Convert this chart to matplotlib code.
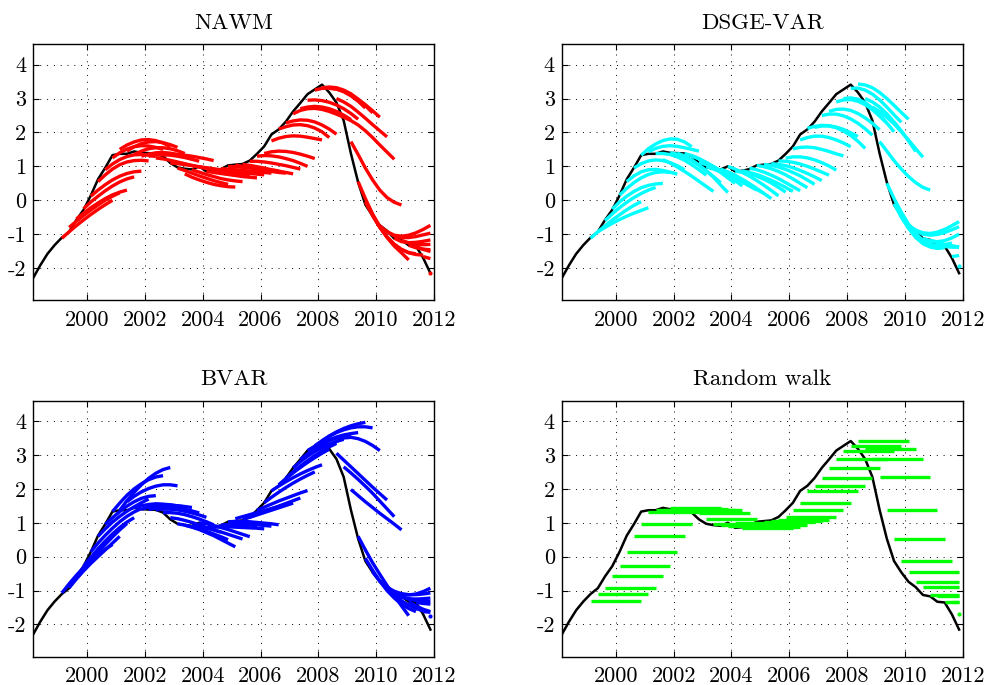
import numpy as np
import matplotlib
matplotlib.use("Agg")
import matplotlib.pyplot as plt

plt.rcParams['font.family'] = ['cmr10', 'DejaVu Serif']
plt.rcParams['axes.unicode_minus'] = False
plt.rcParams['mathtext.fontset'] = 'cm'

# quarterly dates 1998Q1..2011Q4 (plotted at mid-quarter)
years = [y for y in range(1998, 2012) for q in range(4)]
quarters = [q for y in range(1998, 2012) for q in range(4)]

actual = [-2.30, -1.92, -1.58, -1.32, -1.10, -0.93, -0.58, -0.28, 0.14, 0.62, 0.96, 1.33,
          1.37, 1.37, 1.44, 1.40, 1.39, 1.38, 1.30, 1.10, 0.97, 0.93, 0.91, 1.00,
          0.85, 0.87, 0.92, 1.03, 1.05, 1.07, 1.17, 1.37, 1.59, 1.94, 2.09, 2.32,
          2.62, 2.87, 3.13, 3.27, 3.41, 3.18, 2.88, 2.35, 1.38, 0.53, -0.13, -0.46,
          -0.74, -0.90, -1.13, -1.17, -1.33, -1.35, -1.70, -2.15]

first_origin = 4  # forecasts start at 1999Q1

nawm_fc = [
    [-1.12, -0.93, -0.75, -0.58, -0.42, -0.27, -0.13, 0.00],
    [-0.80, -0.62, -0.45, -0.29, -0.14, 0.00, 0.12, 0.22],
    [-0.55, -0.38, -0.22, -0.08, 0.05, 0.16, 0.24, 0.30],
    [-0.25, -0.05, 0.12, 0.28, 0.42, 0.54, 0.63, 0.69],
    [0.12, 0.30, 0.46, 0.60, 0.71, 0.79, 0.84, 0.86],
    [0.55, 0.75, 0.92, 1.05, 1.13, 1.17, 1.18, 1.16],
    [0.90, 1.07, 1.20, 1.29, 1.34, 1.35, 1.33, 1.29],
    [1.25, 1.40, 1.51, 1.58, 1.61, 1.60, 1.56, 1.50],
    [1.50, 1.63, 1.72, 1.78, 1.79, 1.76, 1.69, 1.58],
    [1.45, 1.58, 1.67, 1.72, 1.73, 1.70, 1.64, 1.56],
    [1.35, 1.45, 1.52, 1.55, 1.55, 1.52, 1.46, 1.38],
    [1.30, 1.36, 1.40, 1.41, 1.39, 1.35, 1.29, 1.21],
    [1.30, 1.33, 1.34, 1.33, 1.30, 1.26, 1.21, 1.15],
    [1.25, 1.22, 1.18, 1.13, 1.08, 1.03, 0.98, 0.94],
    [1.34, 1.36, 1.35, 1.33, 1.30, 1.26, 1.22, 1.17],
    [1.10, 1.08, 1.05, 1.02, 0.99, 0.96, 0.93, 0.90],
    [0.95, 0.88, 0.80, 0.72, 0.65, 0.58, 0.52, 0.47],
    [0.78, 0.68, 0.60, 0.53, 0.47, 0.43, 0.40, 0.39],
    [0.90, 0.83, 0.76, 0.70, 0.64, 0.60, 0.57, 0.55],
    [0.98, 0.95, 0.91, 0.87, 0.83, 0.80, 0.77, 0.75],
    [0.85, 0.82, 0.79, 0.76, 0.73, 0.70, 0.68, 0.66],
    [0.88, 0.87, 0.85, 0.83, 0.81, 0.79, 0.77, 0.75],
    [0.93, 0.92, 0.90, 0.88, 0.86, 0.84, 0.82, 0.80],
    [1.00, 0.99, 0.97, 0.95, 0.93, 0.91, 0.89, 0.87],
    [1.04, 1.00, 0.96, 0.92, 0.88, 0.85, 0.82, 0.80],
    [1.06, 1.03, 0.99, 0.95, 0.90, 0.86, 0.82, 0.78],
    [1.15, 1.15, 1.13, 1.10, 1.06, 1.02, 0.97, 0.92],
    [1.30, 1.32, 1.31, 1.28, 1.23, 1.17, 1.09, 1.00],
    [1.38, 1.43, 1.45, 1.44, 1.41, 1.36, 1.30, 1.23],
    [1.75, 1.83, 1.88, 1.90, 1.89, 1.86, 1.82, 1.78],
    [2.10, 2.17, 2.22, 2.23, 2.20, 2.13, 2.02, 1.85],
    [2.28, 2.34, 2.37, 2.36, 2.31, 2.22, 2.10, 1.95],
    [2.55, 2.65, 2.70, 2.71, 2.68, 2.62, 2.54, 2.45],
    [2.70, 2.75, 2.77, 2.75, 2.70, 2.62, 2.51, 2.38],
    [2.95, 2.96, 2.94, 2.89, 2.81, 2.70, 2.56, 2.39],
    [3.25, 3.30, 3.31, 3.28, 3.20, 3.08, 2.92, 2.72],
    [3.32, 3.34, 3.32, 3.25, 3.14, 2.98, 2.79, 2.58],
    [3.30, 3.28, 3.22, 3.12, 2.98, 2.82, 2.64, 2.45],
    [3.00, 2.90, 2.77, 2.60, 2.42, 2.23, 2.05, 1.87],
    [2.45, 2.35, 2.22, 2.05, 1.85, 1.63, 1.42, 1.21],
    [1.73, 1.35, 0.95, 0.60, 0.30, 0.08, -0.06, -0.14],
    [0.55, 0.05, -0.40, -0.78, -1.10, -1.35, -1.55, -1.76],
    [-0.05, -0.45, -0.80, -1.08, -1.30, -1.45, -1.54, -1.58],
    [-0.45, -0.80, -1.08, -1.30, -1.45, -1.55, -1.60, -1.62],
    [-0.75, -0.93, -1.03, -1.06, -1.03, -0.96, -0.86, -0.74],
    [-0.92, -1.05, -1.10, -1.10, -1.07, -1.02, -0.97],
    [-1.12, -1.22, -1.25, -1.24, -1.21, -1.17],
    [-1.18, -1.26, -1.30, -1.31, -1.30],
    [-1.33, -1.40, -1.44, -1.46],
    [-1.36, -1.45, -1.51],
    [-1.66, -1.72],
    [-2.15],
]

dsge_fc = [
    [-1.12, -0.93, -0.75, -0.58, -0.43, -0.28, -0.15, -0.04],
    [-0.93, -0.80, -0.68, -0.57, -0.47, -0.38, -0.30, -0.22],
    [-0.60, -0.40, -0.22, -0.06, 0.08, 0.20, 0.30, 0.38],
    [-0.26, -0.05, 0.12, 0.26, 0.37, 0.44, 0.48, 0.50],
    [0.15, 0.35, 0.52, 0.66, 0.76, 0.82, 0.84, 0.82],
    [0.55, 0.72, 0.84, 0.90, 0.91, 0.88, 0.83, 0.77],
    [0.95, 1.08, 1.16, 1.19, 1.17, 1.11, 1.02, 0.90],
    [1.33, 1.52, 1.66, 1.76, 1.81, 1.80, 1.72, 1.58],
    [1.43, 1.53, 1.59, 1.61, 1.59, 1.55, 1.50, 1.45],
    [1.38, 1.38, 1.35, 1.28, 1.18, 1.05, 0.90, 0.74],
    [1.20, 1.10, 0.98, 0.85, 0.71, 0.56, 0.41, 0.26],
    [1.40, 1.36, 1.28, 1.17, 1.03, 0.87, 0.70, 0.52],
    [1.39, 1.31, 1.19, 1.04, 0.87, 0.68, 0.45, 0.23],
    [1.38, 1.32, 1.23, 1.11, 0.97, 0.82, 0.66, 0.50],
    [1.30, 1.22, 1.12, 1.00, 0.87, 0.73, 0.58, 0.42],
    [1.12, 1.05, 0.97, 0.88, 0.78, 0.67, 0.55, 0.42],
    [0.99, 0.92, 0.84, 0.75, 0.65, 0.54, 0.42, 0.30],
    [0.94, 0.86, 0.77, 0.67, 0.56, 0.44, 0.32, 0.20],
    [0.92, 0.84, 0.74, 0.62, 0.49, 0.35, 0.20, 0.05],
    [1.00, 0.92, 0.82, 0.71, 0.58, 0.44, 0.29, 0.13],
    [0.85, 0.83, 0.78, 0.71, 0.62, 0.51, 0.38, 0.24],
    [0.87, 0.82, 0.76, 0.68, 0.59, 0.49, 0.38, 0.26],
    [0.95, 0.90, 0.83, 0.74, 0.64, 0.52, 0.40, 0.28],
    [1.03, 0.99, 0.93, 0.85, 0.75, 0.63, 0.50, 0.37],
    [1.06, 1.03, 0.98, 0.91, 0.82, 0.72, 0.60, 0.47],
    [1.08, 1.06, 1.02, 0.96, 0.88, 0.79, 0.69, 0.58],
    [1.16, 1.15, 1.12, 1.07, 1.00, 0.92, 0.83, 0.74],
    [1.24, 1.28, 1.28, 1.25, 1.19, 1.11, 1.01, 0.89],
    [1.52, 1.56, 1.57, 1.55, 1.50, 1.44, 1.37, 1.31],
    [1.78, 1.85, 1.89, 1.89, 1.85, 1.78, 1.69, 1.58],
    [2.12, 2.18, 2.21, 2.20, 2.16, 2.09, 1.99, 1.88],
    [2.15, 2.19, 2.19, 2.14, 2.04, 1.91, 1.74, 1.53],
    [2.50, 2.54, 2.54, 2.49, 2.40, 2.27, 2.11, 1.92],
    [2.62, 2.68, 2.69, 2.65, 2.56, 2.43, 2.27, 2.08],
    [2.90, 2.96, 2.97, 2.92, 2.82, 2.67, 2.48, 2.27],
    [3.00, 3.02, 2.98, 2.88, 2.72, 2.52, 2.28, 2.02],
    [3.30, 3.31, 3.25, 3.13, 2.96, 2.75, 2.52, 2.30],
    [3.43, 3.40, 3.32, 3.18, 3.00, 2.80, 2.59, 2.39],
    [3.00, 2.90, 2.75, 2.55, 2.31, 2.05, 1.75, 1.44],
    [2.75, 2.62, 2.45, 2.25, 2.02, 1.78, 1.52, 1.27],
    [1.73, 1.45, 1.17, 0.92, 0.70, 0.52, 0.38, 0.30],
    [0.50, 0.05, -0.35, -0.70, -0.98, -1.18, -1.32, -1.40],
    [-0.10, -0.50, -0.83, -1.10, -1.28, -1.38, -1.42, -1.40],
    [-0.45, -0.78, -1.03, -1.20, -1.30, -1.33, -1.31, -1.26],
    [-0.73, -0.88, -0.96, -0.98, -0.94, -0.86, -0.75, -0.63],
    [-0.90, -1.00, -1.03, -1.01, -0.95, -0.87, -0.78],
    [-1.12, -1.20, -1.22, -1.19, -1.11, -1.00],
    [-1.17, -1.25, -1.30, -1.34, -1.38],
    [-1.33, -1.36, -1.38, -1.38],
    [-1.36, -1.37, -1.38],
    [-1.66, -1.63],
    [-1.95],
]

bvar_fc = [
    [-1.07, -0.80, -0.55, -0.32, -0.12, 0.06, 0.22, 0.36],
    [-0.92, -0.66, -0.42, -0.20, 0.00, 0.20, 0.40, 0.60],
    [-0.62, -0.35, -0.10, 0.13, 0.36, 0.58, 0.79, 0.98],
    [-0.28, -0.02, 0.23, 0.46, 0.67, 0.86, 1.02, 1.15],
    [0.14, 0.40, 0.63, 0.84, 1.03, 1.19, 1.32, 1.42],
    [0.60, 0.82, 1.02, 1.19, 1.34, 1.47, 1.59, 1.70],
    [0.95, 1.15, 1.33, 1.49, 1.62, 1.72, 1.78, 1.80],
    [1.33, 1.58, 1.81, 2.00, 2.15, 2.27, 2.35, 2.39],
    [1.37, 1.65, 1.90, 2.12, 2.31, 2.46, 2.57, 2.63],
    [1.62, 1.78, 1.91, 2.01, 2.08, 2.12, 2.12, 2.09],
    [1.44, 1.50, 1.54, 1.56, 1.55, 1.53, 1.50, 1.47],
    [1.40, 1.46, 1.50, 1.52, 1.52, 1.50, 1.48, 1.45],
    [1.39, 1.43, 1.46, 1.46, 1.44, 1.40, 1.35, 1.29],
    [1.38, 1.40, 1.40, 1.38, 1.34, 1.29, 1.23, 1.16],
    [1.30, 1.30, 1.28, 1.24, 1.18, 1.11, 1.03, 0.94],
    [1.15, 1.12, 1.07, 1.01, 0.94, 0.86, 0.79, 0.72],
    [0.97, 0.93, 0.88, 0.82, 0.75, 0.67, 0.59, 0.50],
    [0.93, 0.87, 0.80, 0.71, 0.62, 0.51, 0.40, 0.29],
    [0.91, 0.88, 0.84, 0.79, 0.73, 0.66, 0.59, 0.52],
    [1.00, 0.97, 0.92, 0.86, 0.80, 0.73, 0.66, 0.59],
    [0.85, 0.88, 0.90, 0.92, 0.93, 0.93, 0.93, 0.92],
    [0.87, 0.88, 0.88, 0.87, 0.86, 0.85, 0.84, 0.82],
    [0.93, 0.95, 0.96, 0.96, 0.95, 0.94, 0.92, 0.90],
    [1.03, 1.04, 1.04, 1.03, 1.01, 0.99, 0.97, 0.94],
    [1.12, 1.18, 1.24, 1.30, 1.36, 1.42, 1.48, 1.54],
    [1.10, 1.16, 1.23, 1.30, 1.37, 1.44, 1.51, 1.58],
    [1.17, 1.25, 1.33, 1.41, 1.49, 1.57, 1.65, 1.73],
    [1.37, 1.46, 1.55, 1.64, 1.72, 1.80, 1.88, 1.95],
    [1.59, 1.75, 1.90, 2.04, 2.17, 2.29, 2.40, 2.50],
    [1.94, 2.08, 2.21, 2.33, 2.44, 2.54, 2.63, 2.71],
    [2.12, 2.30, 2.47, 2.63, 2.78, 2.92, 3.05, 3.17],
    [2.32, 2.50, 2.67, 2.83, 2.98, 3.12, 3.24, 3.34],
    [2.62, 2.80, 2.96, 3.10, 3.22, 3.32, 3.40, 3.46],
    [2.87, 3.03, 3.18, 3.31, 3.42, 3.50, 3.56, 3.60],
    [3.13, 3.25, 3.36, 3.45, 3.53, 3.59, 3.63, 3.66],
    [3.27, 3.42, 3.56, 3.68, 3.78, 3.86, 3.92, 3.96],
    [3.41, 3.55, 3.66, 3.74, 3.80, 3.83, 3.83, 3.80],
    [3.25, 3.40, 3.50, 3.52, 3.48, 3.40, 3.28, 3.13],
    [3.05, 2.85, 2.65, 2.45, 2.25, 2.05, 1.86, 1.67],
    [2.65, 2.47, 2.28, 2.08, 1.87, 1.64, 1.41, 1.18],
    [1.98, 1.80, 1.62, 1.45, 1.28, 1.12, 0.96, 0.79],
    [0.60, 0.20, -0.18, -0.52, -0.85, -1.15, -1.45, -1.74],
    [-0.05, -0.40, -0.72, -1.00, -1.22, -1.40, -1.53, -1.62],
    [-0.45, -0.72, -0.95, -1.14, -1.30, -1.43, -1.53, -1.60],
    [-0.72, -0.92, -1.05, -1.12, -1.13, -1.10, -1.03, -0.93],
    [-0.90, -1.02, -1.09, -1.12, -1.12, -1.10, -1.07],
    [-1.12, -1.20, -1.24, -1.25, -1.24, -1.22],
    [-1.17, -1.25, -1.29, -1.31, -1.32],
    [-1.33, -1.45, -1.55, -1.62],
    [-1.35, -1.38, -1.40],
    [-1.62, -1.64],
    [-1.76],
]

# random walk: constant level carried forward from the last observation
rw_level = [-1.32, -1.10, -0.93, -0.58, -0.28, 0.14, 0.62, 0.96, 1.33, 1.37, 1.37, 1.44,
            1.40, 1.39, 1.38, 1.30, 1.10, 0.97, 0.93, 0.91, 1.00, 0.85, 0.87, 0.92,
            1.03, 1.05, 1.07, 1.17, 1.37, 1.59, 1.94, 2.09, 2.32, 2.62, 2.87, 3.13,
            3.27, 3.41, 3.18, 2.88, 2.35, 1.38, 0.53, -0.13, -0.46, -0.74, -0.90, -1.13,
            -1.17, -1.33, -1.35, -1.70]
horizon = 8

dates = np.array(years) + (np.array(quarters) + 0.5) / 4.0
n_obs = len(actual)
rw_fc = [[v] * min(horizon, n_obs - (first_origin + i)) for i, v in enumerate(rw_level)]

titles = ["NAWM", "DSGE-VAR", "BVAR", "Random walk"]
colors = ["#ff0000", "#00ffff", "#0000ff", "#00ff00"]
forecasts = [nawm_fc, dsge_fc, bvar_fc, rw_fc]

W, H = 987, 685
fig = plt.figure(figsize=(W / 100, H / 100), dpi=100)
lefts = [33, 561.7]
tops = [44.3, 400.7]
aw, ah = 401, 256

for k in range(4):
    r, c = divmod(k, 2)
    ax = fig.add_axes([lefts[c] / W, 1 - (tops[r] + ah) / H, aw / W, ah / H])
    ax.plot(dates, actual, color="black", lw=1.8, zorder=2, solid_joinstyle='round')
    for i, fc in enumerate(forecasts[k]):
        s = first_origin + i
        xs = dates[s:s + len(fc)]
        if len(fc) == 1:
            ax.plot(xs, fc, marker='o', ms=2.0, color=colors[k], lw=0, zorder=3)
        else:
            ax.plot(xs, fc, color=colors[k], lw=2.4, zorder=3, solid_capstyle='butt')
    ax.set_xlim(1998.125, 2012)
    ax.set_ylim(-2.95, 4.6)
    ax.set_xticks([2000, 2002, 2004, 2006, 2008, 2010, 2012])
    ax.set_yticks([-2, -1, 0, 1, 2, 3, 4])
    ax.set_yticklabels(["-2", "-1", "0", "1", "2", "3", "4"])
    ax.grid(True, linestyle=(0, (1, 6)), color="black", lw=0.7)
    ax.tick_params(direction='in', top=True, right=True, length=4, width=0.8,
                   labelsize=16)
    ax.tick_params(axis='x', pad=7)
    ax.tick_params(axis='y', pad=5)
    for sp in ax.spines.values():
        sp.set_linewidth(1.0)
    ax.set_title(titles[k], fontsize=16.5, pad=11)

fig.savefig("out.png", dpi=100)
